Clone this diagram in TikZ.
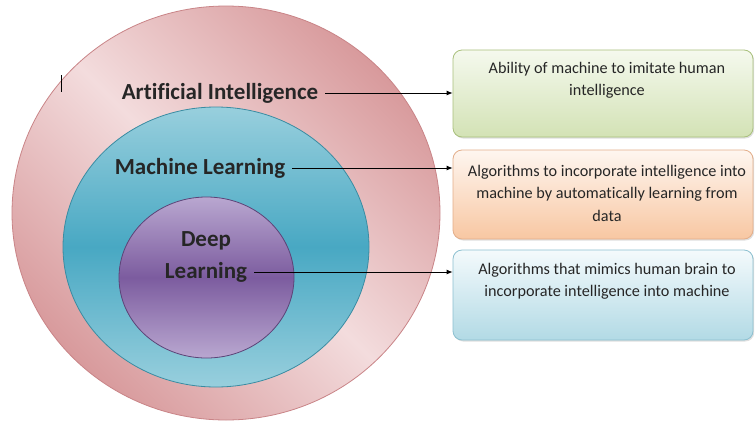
\documentclass[tikz,border=0pt]{standalone}
\usepackage{fontspec}
\setmainfont{Carlito}[Ligatures=CommonOff]
\usetikzlibrary{arrows.meta,shapes.geometric,shadows}
\definecolor{pinkL}{HTML}{F3DCDD}
\definecolor{pinkD}{HTML}{D89A9C}
\definecolor{pinkB}{HTML}{C98487}
\definecolor{tealL}{HTML}{98CFDD}
\definecolor{tealD}{HTML}{48A8C3}
\definecolor{tealB}{HTML}{3A8CA2}
\definecolor{purL}{HTML}{B9A7D0}
\definecolor{purD}{HTML}{7C5C9F}
\definecolor{purB}{HTML}{5C4478}
\definecolor{grT}{HTML}{F5F9EE}
\definecolor{grB}{HTML}{D3E2B5}
\definecolor{grE}{HTML}{A9C07C}
\definecolor{orT}{HTML}{FEF6F0}
\definecolor{orB}{HTML}{F8C7A2}
\definecolor{orE}{HTML}{E3AE8A}
\definecolor{blT}{HTML}{F4FAFC}
\definecolor{blB}{HTML}{B2DAE5}
\definecolor{blE}{HTML}{8CC0D0}
\tikzset{
  ring/.style={ellipse, inner sep=0pt, line width=0.8pt},
  lab/.style={font=\bfseries\fontsize{23}{26}\selectfont, text=black!85, inner sep=1pt},
  infobox/.style={rounded corners=9pt, line width=0.8pt, inner sep=0pt,
    drop shadow={opacity=0.25, shadow xshift=1.2pt, shadow yshift=-1.5pt}},
  info/.style={font=\fontsize{16.2}{22.5}\selectfont, align=center, text=black!85, inner sep=0pt, anchor=north},
  conn/.style={line width=0.8pt, -{Latex[length=6pt,width=5pt]}}
}
\begin{document}
\begin{tikzpicture}[x=1pt,y=-1pt]
\useasboundingbox (0,0) rectangle (755,421);
\fill[white] (0,0) rectangle (755,421);
% circles
\node[ring, draw=pinkB, minimum width=428pt, minimum height=414pt,
  top color=pinkD, bottom color=pinkD, middle color=pinkL, shading angle=-45] (outer) at (226,213) {};
\node[ring, draw=tealB, minimum width=306pt, minimum height=280pt,
  top color=tealL, bottom color=tealL, middle color=tealD] (mid) at (216,247) {};
\node[ring, draw=purB, minimum width=175pt, minimum height=161pt,
  top color=purL, bottom color=purL, middle color=purD] (inner) at (206.5,277.5) {};
% stray mark
\coordinate (m1) at (61,75);
\coordinate (m2) at (61,92);
\draw[line width=0.9pt] (m1) -- (m2);
% labels
\node[lab] (ai) at (220,93) {Artificial Intelligence};
\node[lab] (ml) at (200,168) {Machine Learning};
\node[lab] (deep) at (206,241) {Deep};
\node[lab] (dl) at (206,272) {Learning};
% boxes
\node[infobox, draw=grE, top color=grT, bottom color=grB, minimum width=300pt, minimum height=87pt] (b1) at (603,93.5) {};
\node[infobox, draw=orE, top color=orT, bottom color=orB, minimum width=300pt, minimum height=89pt] (b2) at (603,194.5) {};
\node[infobox, draw=blE, top color=blT, bottom color=blB, minimum width=300pt, minimum height=90pt] (b3) at (603,295) {};
\node[info] (t1) at (607,62) {Ability of machine to imitate human\\intelligence};
\node[info] (t2) at (607,165) {Algorithms to incorporate intelligence into\\machine by automatically learning from\\data};
\node[info] (t3) at (607,263) {Algorithms that mimics human brain to\\incorporate intelligence into machine};
% connectors
\draw[conn] (ai.east) ++(6,0) coordinate (a1) (a1) -- (a1 -| b1.west);
\draw[conn] (ml.east) ++(6,0) coordinate (a2) (a2) -- (a2 -| b2.west);
\draw[conn] (dl.east) ++(6,0) coordinate (a3) (a3) -- (a3 -| b3.west);
\end{tikzpicture}
\end{document}
